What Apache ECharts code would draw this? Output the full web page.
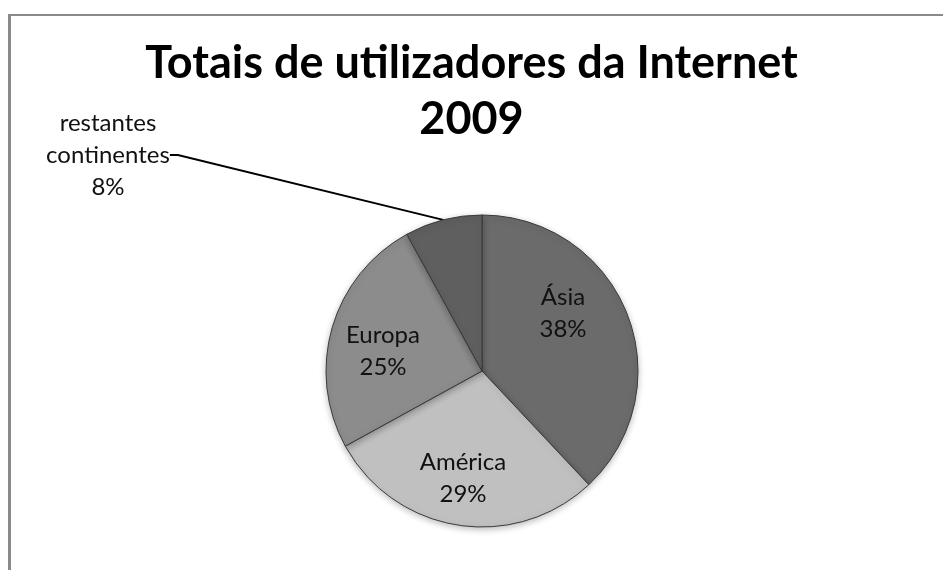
<!DOCTYPE html>
<html>
<head>
<meta charset="utf-8">
<script src="https://cdn.jsdelivr.net/npm/echarts@6/dist/echarts.min.js"></script>
<style>
  html, body { margin: 0; padding: 0; background: #fff; }
  #chart { width: 943px; height: 570px; }
</style>
</head>
<body>
<div id="chart"></div>
<script>
  // data
  var continents = ['Ásia', 'América', 'Europa', 'restantes\ncontinentes']
  var shares = [38, 29, 25, 8]
  var sliceColors = ['#6b6b6b', '#c0c0c0', '#8c8c8c', '#5f5f5f']

  // where each label sits (Excel-like placement)
  var labelSpots = [
    {x: 563, y: 313},
    {x: 463, y: 478},
    {x: 383, y: 351},
    {x: 108, y: 155}
  ]

  var chart = echarts.init(document.getElementById('chart'))

  var pieData = []
  for (var i = 0; i < continents.length; i++) {
    pieData.push({
      name: continents[i],
      value: shares[i],
      itemStyle: {color: sliceColors[i]},
      label: i === 3 ? {position: 'outside'} : {position: 'inside'},
      labelLine: {show: i === 3}
    })
  }

  var option = {
    backgroundColor: '#ffffff',
    animation: false,
    title: {
      text: 'Totais de utilizadores da Internet\n2009',
      left: 'center',
      top: 35,
      padding: [0, 0, 0, 14],
      textStyle: {
        fontFamily: 'Lato',
        fontWeight: 'bold',
        fontSize: 45,
        lineHeight: 56,
        color: '#000'
      }
    },
    graphic: [
      {type: 'line', shape: {x1: 8, y1: 15, x2: 943, y2: 15}, style: {stroke: '#8a8a8a', lineWidth: 2}},
      {type: 'line', shape: {x1: 9.5, y1: 14, x2: 9.5, y2: 570}, style: {stroke: '#8a8a8a', lineWidth: 3}}
    ],
    series: [
      {
        type: 'pie',
        center: [482, 371],
        radius: 156,
        startAngle: 90,
        clockwise: true,
        itemStyle: {
          borderColor: '#3a3a3a',
          borderWidth: 1,
          shadowColor: 'rgba(0,0,0,0.25)',
          shadowBlur: 6,
          shadowOffsetY: 2
        },
        label: {
          formatter: function (p) { return p.name + '\n' + p.value + '%' },
          fontFamily: 'Lato',
          fontSize: 24,
          lineHeight: 32,
          color: '#111',
          align: 'center'
        },
        labelLine: {
          length2: 8,
          lineStyle: {color: '#000', width: 2}
        },
        labelLayout: function (params) {
          var s = labelSpots[params.dataIndex]
          return {x: s.x, y: s.y, align: 'center', verticalAlign: 'middle'}
        },
        data: pieData
      }
    ]
  }
  chart.setOption(option)
</script>
</body>
</html>
